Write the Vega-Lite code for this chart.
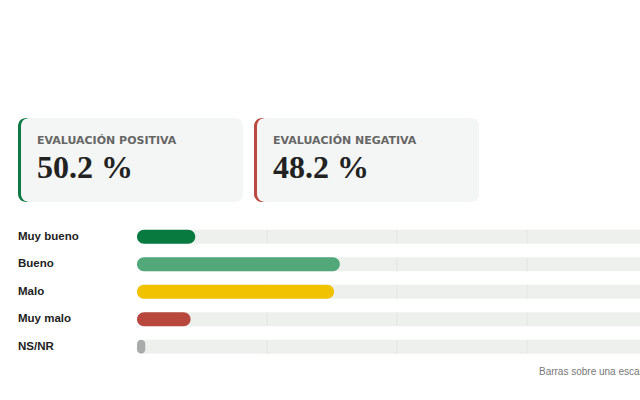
{
  "$schema": "https://vega.github.io/schema/vega-lite/v6.json",
  "background": "white",
  "padding": {"left": 18, "top": 118, "right": 0, "bottom": 0},
  "config": {"view": {"stroke": null}, "font": "Liberation Sans"},
  "datasets": {
    "tarjetas": [
      {"titulo": "EVALUACIÓN POSITIVA", "valor": 50.2, "signo": "positiva"},
      {"titulo": "EVALUACIÓN NEGATIVA", "valor": 48.2, "signo": "negativa"}
    ],
    "respuestas": [
      {"respuesta": "Muy bueno", "pct": 11.2},
      {"respuesta": "Bueno", "pct": 39.0},
      {"respuesta": "Malo", "pct": 37.9},
      {"respuesta": "Muy malo", "pct": 10.3},
      {"respuesta": "NS/NR", "pct": 1.6}
    ],
    "nota": [
      {"respuesta": " ", "texto": "Barras sobre una escala de 0 a 100"}
    ]
  },
  "vconcat": [
    {
      "width": 458, "height": 84,
      "data": {"name": "tarjetas"},
      "encoding": {
        "x": {"field": "titulo", "type": "nominal", "sort": null, "axis": null,
              "scale": {"paddingInner": 0.0593, "paddingOuter": 0}}
      },
      "layer": [
        {
          "mark": {"type": "bar", "cornerRadius": 8},
          "encoding": {
            "color": {"field": "signo", "type": "nominal", "legend": null,
                      "scale": {"domain": ["positiva", "negativa"], "range": ["#0d7a45", "#b94a3f"]}}
          }
        },
        {
          "mark": {"type": "bar", "cornerRadius": 8, "xOffset": 3, "color": "#f4f6f5"}
        },
        {
          "mark": {"type": "text", "align": "left", "baseline": "middle", "dx": 19, "dy": -19,
                   "font": "DejaVu Sans", "fontWeight": "bold", "fontSize": 11, "color": "#666666"},
          "encoding": {
            "x": {"field": "titulo", "type": "nominal", "sort": null, "bandPosition": 0},
            "text": {"field": "titulo"}
          }
        },
        {
          "mark": {"type": "text", "align": "left", "baseline": "alphabetic", "dx": 19, "dy": 18,
                   "font": "Liberation Serif", "fontWeight": "bold", "fontSize": 32, "color": "#222222",
                   "text": {"expr": "format(datum.valor, '.1f') + ' %'"}},
          "encoding": {
            "x": {"field": "titulo", "type": "nominal", "sort": null, "bandPosition": 0}
          }
        }
      ]
    },
    {
      "width": 622, "height": 165,
      "encoding": {
        "y": {"field": "respuesta", "type": "nominal", "sort": null, "axis": null,
              "scale": {"domain": ["Muy bueno", "Bueno", "Malo", "Muy malo", "NS/NR", " "], "paddingInner": 0, "paddingOuter": 0}}
      },
      "layer": [
        {
          "data": {"name": "respuestas"},
          "mark": {"type": "bar", "height": 14, "cornerRadius": 7, "color": "#eef0ee", "clip": true},
          "encoding": {
            "x": {"datum": 0, "type": "quantitative", "axis": null, "scale": {"domain": [-22.885, 96.73], "nice": false, "zero": false}},
            "x2": {"datum": 100}
          }
        },
        {
          "data": {"name": "respuestas"},
          "mark": {"type": "tick", "orient": "vertical", "size": 14, "thickness": 1, "color": "#e0e3e0"},
          "encoding": {
            "x": {"datum": 25, "type": "quantitative", "axis": null, "scale": {"domain": [-22.885, 96.73], "nice": false, "zero": false}}
          }
        },
        {
          "data": {"name": "respuestas"},
          "mark": {"type": "tick", "orient": "vertical", "size": 14, "thickness": 1, "color": "#e0e3e0"},
          "encoding": {
            "x": {"datum": 50, "type": "quantitative", "axis": null, "scale": {"domain": [-22.885, 96.73], "nice": false, "zero": false}}
          }
        },
        {
          "data": {"name": "respuestas"},
          "mark": {"type": "tick", "orient": "vertical", "size": 14, "thickness": 1, "color": "#e0e3e0"},
          "encoding": {
            "x": {"datum": 75, "type": "quantitative", "axis": null, "scale": {"domain": [-22.885, 96.73], "nice": false, "zero": false}}
          }
        },
        {
          "data": {"name": "respuestas"},
          "mark": {"type": "bar", "height": 14, "cornerRadius": 7},
          "encoding": {
            "x": {"field": "pct", "type": "quantitative", "axis": null, "scale": {"domain": [-22.885, 96.73], "nice": false, "zero": false}},
            "x2": {"datum": 0},
            "color": {"field": "respuesta", "type": "nominal", "legend": null,
                      "scale": {"domain": ["Muy bueno", "Bueno", "Malo", "Muy malo", "NS/NR"],
                                "range": ["#087a3f", "#52a878", "#f0c200", "#b8473d", "#a9abab"]}}
          }
        },
        {
          "data": {"name": "respuestas"},
          "mark": {"type": "text", "align": "left", "baseline": "middle", "font": "Liberation Sans",
                   "fontWeight": "bold", "fontSize": 11.5, "color": "#222222"},
          "encoding": {
            "x": {"datum": -22.885, "type": "quantitative", "axis": null, "scale": {"domain": [-22.885, 96.73], "nice": false, "zero": false}},
            "text": {"field": "respuesta"}
          }
        },
        {
          "data": {"name": "nota"},
          "mark": {"type": "text", "align": "left", "baseline": "middle", "dy": -2, "fontSize": 10, "color": "#777777", "clip": true},
          "encoding": {
            "x": {"datum": 77.3, "type": "quantitative", "axis": null, "scale": {"domain": [-22.885, 96.73], "nice": false, "zero": false}},
            "text": {"field": "texto"}
          }
        }
      ]
    }
  ],
  "spacing": 21,
  "resolve": {"scale": {"color": "independent", "x": "independent"}}
}
